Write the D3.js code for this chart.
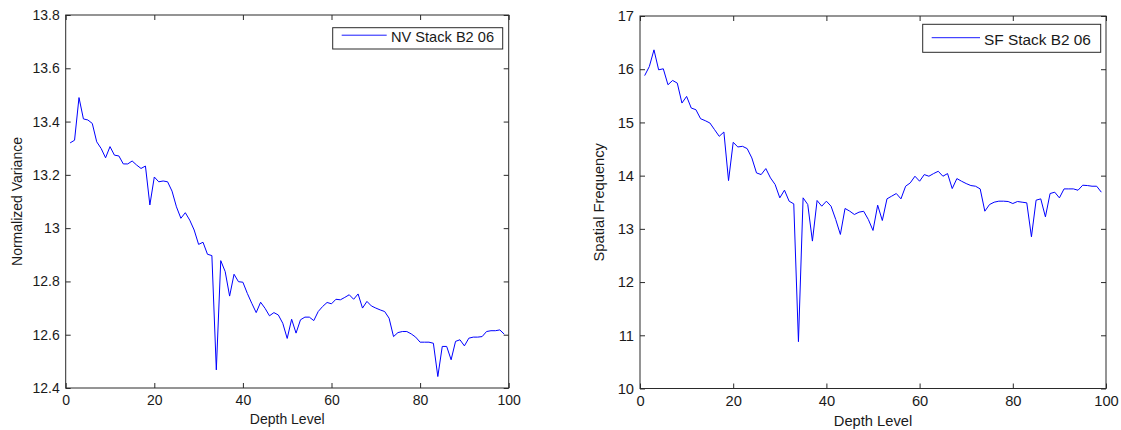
<!DOCTYPE html>
<html>
<head>
<meta charset="utf-8">
<script src="https://cdn.jsdelivr.net/npm/d3@7"></script>
<style>
  body { margin: 0; background: #fff; }
  svg { display: block; }
  text { font-family: "Liberation Sans", Arial, Helvetica, sans-serif; fill: #1a1a1a; }
</style>
</head>
<body>
<svg id="chart" width="1121" height="430"></svg>
<script>
// ---- data ----
const depthLevels = d3.range(1, 100);
const nvValues = [
  13.32, 13.33, 13.49, 13.41, 13.406, 13.393, 13.324, 13.299, 13.264, 13.306,
  13.274, 13.271, 13.241, 13.241, 13.252, 13.237, 13.224, 13.233, 13.087, 13.192,
  13.174, 13.177, 13.174, 13.139, 13.08, 13.037, 13.058, 13.03, 12.993, 12.939,
  12.947, 12.902, 12.897, 12.468, 12.878, 12.837, 12.745, 12.827, 12.799, 12.797,
  12.755, 12.718, 12.683, 12.722, 12.699, 12.671, 12.683, 12.674, 12.643, 12.586,
  12.658, 12.606, 12.656, 12.666, 12.666, 12.653, 12.687, 12.706, 12.721, 12.716,
  12.733, 12.731, 12.74, 12.75, 12.733, 12.753, 12.70, 12.725, 12.708, 12.70,
  12.693, 12.687, 12.662, 12.593, 12.608, 12.612, 12.612, 12.603, 12.591, 12.572,
  12.572, 12.572, 12.568, 12.443, 12.556, 12.556, 12.506, 12.575, 12.581, 12.558,
  12.587, 12.591, 12.591, 12.593, 12.612, 12.615, 12.615, 12.618, 12.602
];
const sfValues = [
  15.88, 16.05, 16.364, 15.989, 16.008, 15.708, 15.789, 15.739, 15.364, 15.489,
  15.27, 15.239, 15.07, 15.033, 14.989, 14.864, 14.739, 14.82, 13.907, 14.626,
  14.539, 14.551, 14.508, 14.333, 14.051, 14.02, 14.133, 13.958, 13.833, 13.583,
  13.727, 13.52, 13.47, 10.88, 13.583, 13.458, 12.77, 13.533, 13.426, 13.52,
  13.426, 13.176, 12.895, 13.383, 13.333, 13.27, 13.314, 13.33, 13.176, 12.97,
  13.445, 13.157, 13.564, 13.614, 13.664, 13.564, 13.801, 13.864, 13.989, 13.895,
  14.02, 13.989, 14.039, 14.082, 13.989, 14.039, 13.757, 13.945, 13.895, 13.851,
  13.814, 13.801, 13.751, 13.332, 13.457, 13.501, 13.52, 13.52, 13.514, 13.476,
  13.514, 13.501, 13.489, 12.851, 13.539, 13.564, 13.226, 13.664, 13.689, 13.582,
  13.751, 13.751, 13.751, 13.726, 13.82, 13.814, 13.801, 13.801, 13.689
];
const xTicks = [0, 20, 40, 60, 80, 100];
const xTickLabels = ["0", "20", "40", "60", "80", "100"];
const nvTicks = [12.4, 12.6, 12.8, 13, 13.2, 13.4, 13.6, 13.8];
const nvTickLabels = ["12.4", "12.6", "12.8", "13", "13.2", "13.4", "13.6", "13.8"];
const sfTicks = [10, 11, 12, 13, 14, 15, 16, 17];
const sfTickLabels = ["10", "11", "12", "13", "14", "15", "16", "17"];

const svg = d3.select("#chart");

function drawPanel(cfg) {
  const g = svg.append("g");
  const x = d3.scaleLinear().domain([0, 100]).range([cfg.left, cfg.right]);
  const y = d3.scaleLinear().domain(cfg.yDomain).range([cfg.bottom, cfg.top]);
  const fs = cfg.fontSize + "px";
  const axisColor = "#2a2a2a";

  // plot frame
  g.append("rect")
    .attr("x", cfg.left).attr("y", cfg.top)
    .attr("width", cfg.right - cfg.left).attr("height", cfg.bottom - cfg.top)
    .attr("fill", "#fff").attr("stroke", axisColor).attr("stroke-width", 1);

  const style = sel => {
    sel.select(".domain").remove();
    sel.selectAll(".tick line").attr("stroke", axisColor);
    sel.selectAll(".tick text").style("font-size", fs).attr("fill", "#1a1a1a");
  };

  const xLab = (d) => xTickLabels[xTicks.indexOf(d)];
  const yLab = (d) => cfg.yTickLabels[cfg.yTicks.indexOf(d)];

  g.append("g").attr("transform", `translate(0,${cfg.bottom})`)
    .call(d3.axisBottom(x).tickValues(xTicks).tickFormat(xLab).tickSizeInner(-5).tickSizeOuter(0).tickPadding(7))
    .call(style);
  g.append("g").attr("transform", `translate(0,${cfg.top})`)
    .call(d3.axisTop(x).tickValues(xTicks).tickFormat("").tickSizeInner(-5).tickSizeOuter(0))
    .call(style);
  g.append("g").attr("transform", `translate(${cfg.left},0)`)
    .call(d3.axisLeft(y).tickValues(cfg.yTicks).tickFormat(yLab).tickSizeInner(-5).tickSizeOuter(0).tickPadding(6))
    .call(style);
  g.append("g").attr("transform", `translate(${cfg.right},0)`)
    .call(d3.axisRight(y).tickValues(cfg.yTicks).tickFormat("").tickSizeInner(-5).tickSizeOuter(0))
    .call(style);

  // line
  const line = d3.line().x((d, i) => x(depthLevels[i])).y(d => y(d));
  g.append("path").datum(cfg.values)
    .attr("d", line).attr("fill", "none")
    .attr("stroke", "#0000ff").attr("stroke-width", 1);

  // axis labels
  g.append("text")
    .attr("x", (cfg.left + cfg.right) / 2).attr("y", cfg.xLabelY)
    .attr("text-anchor", "middle").style("font-size", fs)
    .text("Depth Level");
  g.append("text")
    .attr("transform", `translate(${cfg.yLabelX},${(cfg.top + cfg.bottom) / 2}) rotate(-90)`)
    .attr("text-anchor", "middle").style("font-size", fs)
    .text(cfg.yLabel);

  // legend
  const L = cfg.legend;
  g.append("rect")
    .attr("x", L.x).attr("y", L.y).attr("width", L.w).attr("height", L.h)
    .attr("fill", "#fff").attr("stroke", axisColor).attr("stroke-width", 1);
  g.append("line")
    .attr("x1", L.lx1).attr("x2", L.lx2).attr("y1", L.ly).attr("y2", L.ly)
    .attr("stroke", "#1a1aff").attr("stroke-width", 1);
  g.append("text")
    .attr("x", L.tx).attr("y", L.ty).style("font-size", L.fs + "px")
    .text(cfg.legendText);
}

drawPanel({
  left: 65.7, right: 508.7, top: 15, bottom: 388,
  yDomain: [12.4, 13.8], yTicks: nvTicks, yTickLabels: nvTickLabels,
  values: nvValues, fontSize: 14,
  xLabelY: 423.5, yLabelX: 21.5, yLabel: "Normalized Variance",
  legendText: "NV Stack B2 06",
  legend: { x: 332.7, y: 27.7, w: 170, h: 21.3, lx1: 341.7, lx2: 386.7, ly: 35.2, tx: 391, ty: 41.7, fs: 14.6 }
});

drawPanel({
  left: 640, right: 1106, top: 16, bottom: 388.5,
  yDomain: [10, 17], yTicks: sfTicks, yTickLabels: sfTickLabels,
  values: sfValues, fontSize: 14.7,
  xLabelY: 425.5, yLabelX: 604, yLabel: "Spatial Frequency",
  legendText: "SF Stack B2 06",
  legend: { x: 922.7, y: 24.3, w: 178, h: 28, lx1: 931.7, lx2: 980, ly: 37.7, tx: 984, ty: 45, fs: 15.4 }
});
</script>
</body>
</html>
